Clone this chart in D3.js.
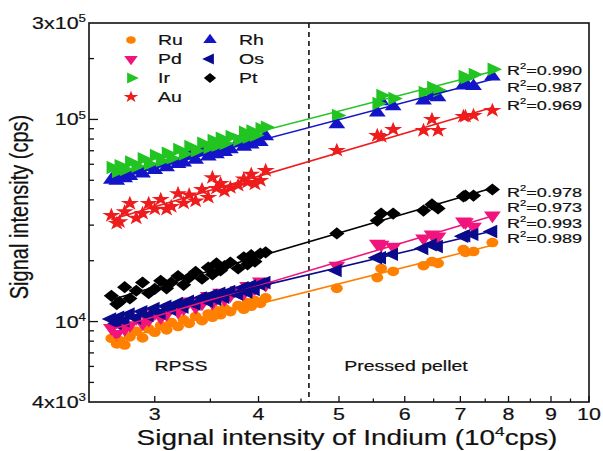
<!DOCTYPE html>
<html>
<head>
<meta charset="utf-8">
<script src="https://cdn.jsdelivr.net/npm/d3@7/dist/d3.min.js"></script>
<style>
  body { margin: 0; background: #fff; }
  text { font-family: "Liberation Sans", Arial, sans-serif; fill: #111; stroke: #111; stroke-width: 0.2px; }
</style>
</head>
<body>
<div id="chart"></div>
<script>
// Indium signal of the samples (10^4 cps)
var rpssIndium = [2.66, 2.70, 2.72, 2.76, 2.80, 2.85, 2.90, 2.95, 3.00, 3.05,
                  3.10, 3.14, 3.20, 3.25, 3.30, 3.36, 3.42, 3.48, 3.52, 3.56,
                  3.60, 3.64, 3.70, 3.78, 3.84, 3.88, 3.92, 3.96, 4.02, 4.08];
var pelletIndium = [4.97, 5.56, 5.62, 5.81, 6.32, 6.47, 6.58, 7.06, 7.10, 7.26, 7.65];

// element signals, 10^3 cps
var ruRpss = [8.25, 7.75, 8.05, 7.65, 8.40, 8.95, 8.30, 9.20, 8.85, 9.55, 9.10, 9.90, 9.45, 10.2, 9.80, 10.6, 10.1, 10.9, 10.5, 11.3, 10.8, 11.6, 11.2, 12.0, 11.5, 12.4, 11.9, 12.7, 12.3, 13.1];
var pdRpss = [9.3, 8.7, 9.9, 9.2, 9.6, 10.4, 9.8, 10.2, 11.0, 10.5, 10.9, 11.8, 11.2, 11.6, 12.6, 11.8, 12.3, 13.4, 12.4, 13.0, 13.9, 12.9, 13.5, 14.3, 13.8, 15.0, 14.2, 14.6, 15.8, 15.2];
var irRpss = [57.8, 55.3, 59.1, 56.5, 61.6, 58.6, 63.9, 60.2, 66.4, 62.3, 68.1, 64.3, 71.1, 67.5, 73.5, 69.9, 76.3, 72.6, 78.8, 74.4, 80.7, 76.1, 82.4, 79.4, 86.5, 81.6, 87.7, 83.4, 90.0, 91.5];
var auRpss = [33.5, 30.6, 31.2, 35.0, 38.4, 32.5, 34.3, 38.4, 36.0, 40.2, 35.9, 37.1, 43.0, 38.6, 42.4, 39.5, 45.1, 41.2, 51.6, 45.6, 48.3, 44.1, 46.0, 47.2, 50.8, 48.8, 53.6, 47.9, 49.9, 55.9];
var rhRpss = [50.3, 49.6, 53.0, 51.1, 52.4, 55.8, 54.0, 58.3, 56.1, 60.5, 57.9, 62.6, 60.1, 61.2, 66.3, 63.0, 68.9, 65.4, 70.8, 67.1, 72.9, 69.0, 71.2, 76.9, 73.1, 78.8, 75.0, 80.3, 77.2, 82.5];
var osRpss = [10.3, 9.8, 10.5, 10.1, 10.9, 10.4, 11.2, 10.7, 11.6, 11.0, 11.9, 11.5, 12.3, 11.8, 12.6, 12.2, 13.1, 12.6, 13.5, 12.9, 13.8, 13.2, 14.1, 13.7, 14.7, 14.0, 15.0, 14.4, 15.3, 15.6];
var ptRpss = [13.4, 12.2, 12.5, 14.8, 13.0, 14.2, 15.6, 13.8, 14.5, 15.9, 14.6, 15.6, 16.8, 15.2, 16.5, 17.6, 16.3, 18.5, 17.1, 19.4, 17.9, 18.8, 19.6, 18.3, 20.8, 19.2, 21.3, 19.8, 21.7, 22.0];

var ruPellet = [14.6, 16.5, 18.3, 17.7, 18.9, 19.8, 19.4, 22.7, 22.0, 22.2, 24.6];
var pdPellet = [18.9, 24.3, 24.0, 23.5, 25.8, 27.0, 26.4, 31.3, 31.0, 29.5, 33.5];
var irPellet = [104.7, 120, 131.5, 127, 136, 144, 139, 163, 161, 167, 177];
var auPellet = [70.3, 83.3, 82.4, 89.2, 88.2, 100, 88.2, 103.5, 103.5, 104.7, 110.8];
var rhPellet = [94.5, 108, 123, 116, 124, 130, 128.5, 147, 151, 146, 163];
var osPellet = [17.9, 20.7, 20.7, 21.5, 23.0, 24.0, 23.5, 26.4, 26.6, 27.0, 27.9];
var ptPellet = [27.3, 31.6, 34.2, 34.2, 35.4, 38.0, 36.3, 41.6, 42.0, 42.0, 45.0];

var elements = ["Ru", "Pd", "Ir", "Au", "Rh", "Os", "Pt"];
var colors = ["#ff8000", "#f0147c", "#22c422", "#ee1c1c", "#1414c8", "#0a0a8c", "#000000"];
var rpssValues = [ruRpss, pdRpss, irRpss, auRpss, rhRpss, osRpss, ptRpss];
var pelletValues = [ruPellet, pdPellet, irPellet, auPellet, rhPellet, osPellet, ptPellet];

var r2Top = ["0.990", "0.987", "0.969"];
var r2Bottom = ["0.978", "0.973", "0.993", "0.989"];

var xMajor = [3, 4, 5, 6, 7, 8, 9, 10];
var xMinor = [3.5, 4.5, 5.5, 6.5, 7.5, 8.5, 9.5];
var yMajor = [1e4, 1e5];
var yMinor = [5e3, 6e3, 7e3, 8e3, 9e3, 2e4, 3e4, 4e4, 5e4, 6e4, 7e4, 8e4, 9e4, 2e5];
var boundaryIndium = 4.6;

var svgWidth = 603;
var svgHeight = 451;
var margin = {top: 23, right: 14, bottom: 49, left: 89};
var width = svgWidth - margin.left - margin.right;
var height = svgHeight - margin.top - margin.bottom;
var SX = 1.3; // the figure is stretched sideways

var svg = d3.select("#chart")
  .append("svg")
  .attr("width", svgWidth)
  .attr("height", svgHeight);

var chartGroup = svg.append("g")
  .attr("transform", `translate(${margin.left}, ${margin.top})`);

var xScale = d3.scaleLog().domain([2.5, 10]).range([0, width]);
var yScale = d3.scaleLog().domain([4000, 300000]).range([height, 0]);

// text with optional superscripts: parts = [[str, sup], ...]
function label(parent, x, y, parts, size, anchor, sx) {
  var t = parent.append("text")
    .attr("transform", `translate(${x}, ${y}) scale(${sx || SX}, 1)`)
    .attr("font-size", size)
    .attr("text-anchor", anchor || "start");
  var raised = false;
  parts.forEach(function(p) {
    var s = t.append("tspan").text(p[0]);
    if (p[1]) {
      s.attr("font-size", size * 0.62).attr("dy", -size * 0.42);
      raised = true;
    } else if (raised) {
      s.attr("dy", size * 0.42);
      raised = false;
    }
  });
  return t;
}

// build series
var series = elements.map(function(el, i) {
  var pts = rpssIndium.map(function(x, j) { return {x: x, y: rpssValues[i][j] * 1000}; })
    .concat(pelletIndium.map(function(x, j) { return {x: x, y: pelletValues[i][j] * 1000}; }));
  // least squares in log-log space
  var lx = pts.map(function(d) { return Math.log10(d.x); });
  var ly = pts.map(function(d) { return Math.log10(d.y); });
  var mx = d3.mean(lx), my = d3.mean(ly);
  var sxy = d3.sum(lx, function(v, k) { return (v - mx) * (ly[k] - my); });
  var sxx = d3.sum(lx, function(v) { return (v - mx) * (v - mx); });
  var b = sxy / sxx, a = my - b * mx;
  var ext = d3.extent(pts, function(d) { return d.x; });
  var fit = ext.map(function(x) { return {x: x, y: Math.pow(10, a + b * Math.log10(x))}; });
  return {name: el, color: colors[i], points: pts, fit: fit};
});

function symbolPath(name, small) {
  var k = small ? 0.65 : 1;
  if (name === "Ru") return d3.symbol(d3.symbolCircle, 72 * k)();
  if (name === "Au") return d3.symbol(d3.symbolStar, 66 * k)();
  if (name === "Pt") return d3.symbol(d3.symbolSquare, 74 * k)();
  return d3.symbol(d3.symbolTriangle, 78 * k)();
}
var symbolRotate = {Ru: 0, Pd: 180, Ir: 90, Au: 0, Rh: 0, Os: -90, Pt: 45};

// frame
chartGroup.append("rect")
  .attr("width", width)
  .attr("height", height)
  .attr("fill", "none")
  .attr("stroke", "#111")
  .attr("stroke-width", 1.6);

// ticks (inward)
chartGroup.selectAll(".xmaj").data(xMajor).enter().append("line")
  .attr("x1", function(d) { return xScale(d); }).attr("x2", function(d) { return xScale(d); })
  .attr("y1", height).attr("y2", height - 6)
  .attr("stroke", "#111").attr("stroke-width", 1.3);
chartGroup.selectAll(".xmin").data(xMinor).enter().append("line")
  .attr("x1", function(d) { return xScale(d); }).attr("x2", function(d) { return xScale(d); })
  .attr("y1", height).attr("y2", height - 3.5)
  .attr("stroke", "#111").attr("stroke-width", 1.3);
chartGroup.selectAll(".ymaj").data(yMajor).enter().append("line")
  .attr("y1", function(d) { return yScale(d); }).attr("y2", function(d) { return yScale(d); })
  .attr("x1", 0).attr("x2", 9)
  .attr("stroke", "#111").attr("stroke-width", 1.3);
chartGroup.selectAll(".ymin").data(yMinor).enter().append("line")
  .attr("y1", function(d) { return yScale(d); }).attr("y2", function(d) { return yScale(d); })
  .attr("x1", 0).attr("x2", 5)
  .attr("stroke", "#111").attr("stroke-width", 1.3);

// tick labels
xMajor.forEach(function(v) {
  label(chartGroup, xScale(v), height + 18, [[String(v)]], 16.5, "middle");
});
label(chartGroup, -3, yScale(3e5) + 6, [["3x10"], ["5", 1]], 16.5, "end");
label(chartGroup, -3, yScale(1e5) + 6, [["10"], ["5", 1]], 16.5, "end");
label(chartGroup, -3, yScale(1e4) + 6, [["10"], ["4", 1]], 16.5, "end");
label(chartGroup, -3, yScale(4e3) + 6, [["4x10"], ["3", 1]], 16.5, "end");

// axis titles
label(svg, 347, 445, [["Signal intensity of Indium (10"], ["4", 1], ["cps)"]], 22, "middle", 1.27);
svg.append("text")
  .attr("transform", `translate(28, 207) scale(${SX}, 1) rotate(-90)`)
  .attr("font-size", 20)
  .attr("text-anchor", "middle")
  .text("Signal intensity (cps)");

// boundary between RPSS and pressed pellet
chartGroup.append("line")
  .attr("x1", xScale(boundaryIndium)).attr("x2", xScale(boundaryIndium))
  .attr("y1", 0).attr("y2", height)
  .attr("stroke", "#111").attr("stroke-width", 1.6)
  .attr("stroke-dasharray", "5,4");

label(chartGroup, 181 - margin.left, 371 - margin.top, [["RPSS"]], 15, "middle");
label(chartGroup, 406 - margin.left, 371 - margin.top, [["Pressed pellet"]], 15, "middle");

// points
var drawOrder = ["Rh", "Ir", "Au", "Pt", "Ru", "Pd", "Os"];
drawOrder.forEach(function(name) {
  var s = series.find(function(d) { return d.name === name; });
  chartGroup.append("g").selectAll("path")
    .data(s.points).enter().append("path")
    .attr("d", symbolPath(name))
    .attr("fill", s.color)
    .attr("transform", function(d) {
      return `translate(${xScale(d.x)}, ${yScale(d.y)}) scale(1.25, 1) rotate(${symbolRotate[name]})`;
    });
});

// fitted lines
var line = d3.line().x(function(d) { return xScale(d.x); }).y(function(d) { return yScale(d.y); });
drawOrder.forEach(function(name) {
  var s = series.find(function(d) { return d.name === name; });
  chartGroup.append("path")
    .datum(s.fit)
    .attr("d", line)
    .attr("fill", "none")
    .attr("stroke", s.color)
    .attr("stroke-width", 1.6);
});

// R^2 labels
r2Top.forEach(function(v, i) {
  label(svg, 507, 74.5 + i * 17.5, [["R"], ["2", 1], ["=" + v]], 13.5, "start", 1.34);
});
r2Bottom.forEach(function(v, i) {
  label(svg, 507, 196.5 + i * 15.5, [["R"], ["2", 1], ["=" + v]], 13.5, "start", 1.34);
});

// legend
series.forEach(function(s, i) {
  var col = i < 4 ? 0 : 1;
  var row = i < 4 ? i : i - 4;
  var mx = col === 0 ? 131 : 210;
  var tx = col === 0 ? 158 : 239;
  var cy = 40 + row * 19;
  svg.append("path")
    .attr("d", symbolPath(s.name, true))
    .attr("fill", s.color)
    .attr("transform", `translate(${mx}, ${cy}) scale(1.25, 1) rotate(${symbolRotate[s.name]})`);
  label(svg, tx, cy + 5.4, [[s.name]], 15, "start");
});
</script>
</body>
</html>
